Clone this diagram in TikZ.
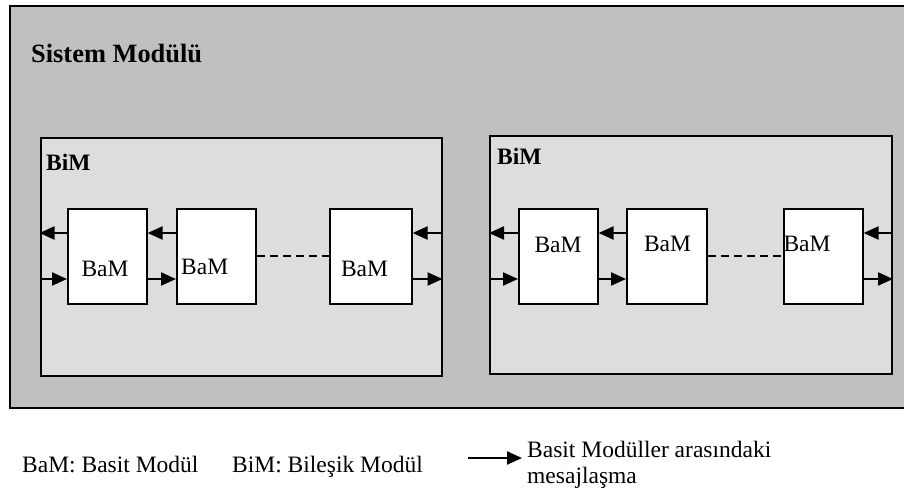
\documentclass[tikz,border=0pt]{standalone}
\usepackage{fontspec}
\setmainfont{Liberation Serif}
\usetikzlibrary{arrows.meta}
\definecolor{sysgray}{RGB}{192,192,192}
\definecolor{bimgray}{RGB}{221,221,221}
\tikzset{
  txt/.style={inner sep=0pt, anchor=base west, font=\fontsize{23.5}{28}\selectfont},
  ctxt/.style={txt, anchor=base},
  boldtxt/.style={txt, font=\fontsize{23.5}{28}\selectfont\bfseries},
  sysbox/.style={fill=sysgray, inner sep=0pt, anchor=north west},
  bimbox/.style={draw, fill=bimgray, line width=2pt, inner sep=0pt, anchor=north west},
  bambox/.style={draw, fill=white, line width=1.6pt, inner sep=0pt, anchor=north west},
  msg/.style={line width=2.2pt, -{Triangle[length=15pt,width=13pt]}},
  link/.style={line width=2pt, dash pattern=on 8pt off 5pt},
}
\begin{document}
\begin{tikzpicture}[x=1pt,y=-1pt]
\useasboundingbox (0,0) rectangle (904,493);

% system module (open on the right)
\node[sysbox, minimum width=894pt, minimum height=402pt] (sys) at (10,6) {};
\draw[line width=2pt] (sys.north east) -- (sys.north west) -- (sys.south west) -- (sys.south east);
\node[boldtxt, font=\fontsize{26.4}{30}\selectfont\bfseries] (systitle) at (31,62) {Sistem Modülü};

% arrow rows
\coordinate (uy) at (0,233);
\coordinate (dy) at (0,279);

% ---- left compound module ----
\node[bimbox, minimum width=401pt, minimum height=238pt] (BL) at (39.5,137) {};
\node[boldtxt] (BLt) at (46,170) {BiM};
\node[bambox, minimum width=79pt, minimum height=95pt] (L1) at (67,208) {};
\node[bambox, minimum width=79pt, minimum height=95pt] (L2) at (176,208) {};
\node[bambox, minimum width=82pt, minimum height=95pt] (L3) at (329,208) {};
\node[ctxt] (L1t) at (105,276) {BaM};
\node[txt] (L2t) at (181,274) {BaM};
\node[ctxt] (L3t) at (364.5,276) {BaM};
\draw[msg] (L1.west |- uy) -- (BL.west |- uy);
\draw[msg] (BL.west |- dy) -- (L1.west |- dy);
\draw[msg] (L2.west |- uy) -- (L1.east |- uy);
\draw[msg] (L1.east |- dy) -- (L2.west |- dy);
\draw[msg] (BL.east |- uy) -- (L3.east |- uy);
\draw[msg] (L3.east |- dy) -- (BL.east |- dy);
\draw[link] (L2.east) -- (L3.west);

% ---- right compound module ----
\node[bimbox, minimum width=402pt, minimum height=238pt] (BR) at (489,135) {};
\node[boldtxt] (BRt) at (497,164) {BiM};
\node[bambox, minimum width=79pt, minimum height=95pt] (R1) at (518,208) {};
\node[bambox, minimum width=80pt, minimum height=95pt] (R2) at (626,208) {};
\node[bambox, minimum width=79pt, minimum height=95pt] (R3) at (783,208) {};
\node[ctxt] (R1t) at (558,252.7) {BaM};
\node[ctxt] (R2t) at (667.5,251) {BaM};
\node[txt] (R3t) at (783.3,251) {BaM};
\draw[msg] (R1.west |- uy) -- (BR.west |- uy);
\draw[msg] (BR.west |- dy) -- (R1.west |- dy);
\draw[msg] (R2.west |- uy) -- (R1.east |- uy);
\draw[msg] (R1.east |- dy) -- (R2.west |- dy);
\draw[msg] (BR.east |- uy) -- (R3.east |- uy);
\draw[msg] (R3.east |- dy) -- (BR.east |- dy);
\draw[link] (R2.east) -- (R3.west);

% ---- legend ----
\node[txt] (lg1) at (22,472) {BaM: Basit Modül};
\node[txt] (lg2) at (232,472) {BiM: Bileşik Modül};
\coordinate (lgs) at (468,458);
\coordinate (lge) at (522,458);
\draw[msg] (lgs) -- (lge);
\node[txt] (lg3) at (527,457) {Basit Modüller arasındaki};
\node[txt] (lg4) at (527,483) {mesajlaşma};
\end{tikzpicture}
\end{document}
